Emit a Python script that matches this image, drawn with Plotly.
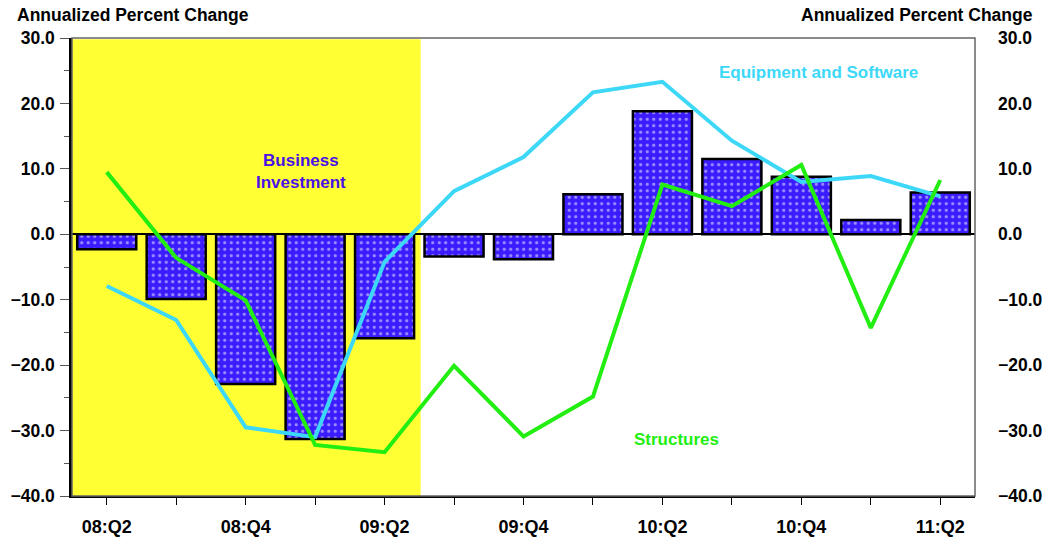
import plotly.graph_objects as go

# Dados
quarters = ['08:Q2', '08:Q3', '08:Q4', '09:Q1', '09:Q2', '09:Q3', '09:Q4',
            '10:Q1', '10:Q2', '10:Q3', '10:Q4', '11:Q1', '11:Q2']
business_investment = [-2.3, -9.9, -22.9, -31.3, -15.9, -3.4, -3.8,
                       6.1, 18.8, 11.5, 8.8, 2.2, 6.4]
equipment_software = [-7.9, -13.1, -29.5, -31.0, -4.2, 6.6, 11.8,
                      21.7, 23.3, 14.3, 8.0, 8.9, 5.8]
structures = [9.5, -3.6, -10.1, -32.2, -33.3, -20.1, -30.9,
              -24.8, 7.6, 4.3, 10.6, -14.3, 8.3]
tick_labels = ['08:Q2', '', '08:Q4', '', '09:Q2', '', '09:Q4',
               '', '10:Q2', '', '10:Q4', '', '11:Q2']

FONT = 'Liberation Sans, Arial, sans-serif'
x = list(range(len(quarters)))

fig = go.Figure()

# Barras - investimento
fig.add_trace(go.Bar(
    x=x, y=business_investment, name='Business Investment',
    width=0.85,
    marker=dict(
        color='#3A1CFF',
        line=dict(color='black', width=2.5),
        pattern=dict(shape='.', fgcolor='white', size=6.5, solidity=0.2),
    ),
))

# Linhas
fig.add_trace(go.Scatter(
    x=x, y=equipment_software, mode='lines', name='Equipment and Software',
    line=dict(color='#3DD8F8', width=4),
))
fig.add_trace(go.Scatter(
    x=x, y=structures, mode='lines', name='Structures',
    line=dict(color='#22EE11', width=4),
))
# traço invisível para o eixo direito
fig.add_trace(go.Scatter(x=[x[0]], y=[0], yaxis='y2', mode='markers',
                         marker=dict(opacity=0), hoverinfo='skip',
                         showlegend=False))

# Área amarela (recessão)
fig.add_shape(type='rect', xref='x', yref='y', x0=-0.5, x1=4.52, y0=-40, y1=29.8,
              fillcolor='#FFFF33', line_width=0, layer='below')
# Moldura
fig.add_shape(type='rect', xref='paper', yref='paper', x0=0, x1=1, y0=0, y1=1,
              line=dict(color='#666666', width=1.5), layer='above')

xtickfont = dict(family=FONT, size=18, color='black', weight='bold')
ytickfont = dict(family=FONT, size=17.5, color='black', weight='bold')

fig.update_layout(
    width=1048, height=543,
    margin=dict(l=72, r=73, t=38, b=47, autoexpand=False),
    plot_bgcolor='white', paper_bgcolor='white',
    showlegend=False,
    bargap=0.15,
    xaxis=dict(
        range=[-0.5, 12.5], tickvals=x, ticktext=tick_labels,
        ticks='outside', ticklen=7, tickcolor='black', tickwidth=1,
        showgrid=False, zeroline=False, automargin=False,
        showline=True, linecolor='black', linewidth=2,
        tickfont=xtickfont, ticklabelstandoff=6,
    ),
    yaxis=dict(
        range=[-40, 30], dtick=10, tickformat='.1f', automargin=False,
        ticks='outside', ticklen=9, tickcolor='#555555',
        minor=dict(dtick=5, ticks='outside', ticklen=5, tickcolor='#555555'),
        showgrid=False, zeroline=True, zerolinecolor='black', zerolinewidth=1.5,
        showline=True, linecolor='black', linewidth=2.5,
        tickfont=ytickfont, ticklabelstandoff=2,
    ),
    yaxis2=dict(
        range=[-40, 30], dtick=10, tickformat='.1f', overlaying='y', side='right',
        showgrid=False, zeroline=False, showline=False, ticks='', automargin=False,
        tickfont=ytickfont, ticklabelstandoff=22,
    ),
    annotations=[
        dict(text='<b>Annualized Percent Change</b>', xref='paper', yref='paper',
             x=-0.063, y=1.05, xanchor='left', yanchor='middle', showarrow=False,
             font=dict(family=FONT, size=17.5, color='black')),
        dict(text='<b>Annualized Percent Change</b>', xref='paper', yref='paper',
             x=1.0665, y=1.05, xanchor='right', yanchor='middle', showarrow=False,
             font=dict(family=FONT, size=17.5, color='black')),
        dict(text='<b>Business<br>Investment</b>', xref='x', yref='y',
             x=2.8, y=9.6, showarrow=False,
             font=dict(family=FONT, size=17, color='#4A12E6')),
        dict(text='<b>Equipment and Software</b>', xref='x', yref='y',
             x=10.25, y=24.7, showarrow=False,
             font=dict(family=FONT, size=17, color='#3DD8F8')),
        dict(text='<b>Structures</b>', xref='x', yref='y',
             x=8.2, y=-31.3, showarrow=False,
             font=dict(family=FONT, size=17, color='#22EE11')),
    ],
)

fig.write_html('out.html', config={'displayModeBar': False},
               post_script="document.body.style.margin='0px';")
